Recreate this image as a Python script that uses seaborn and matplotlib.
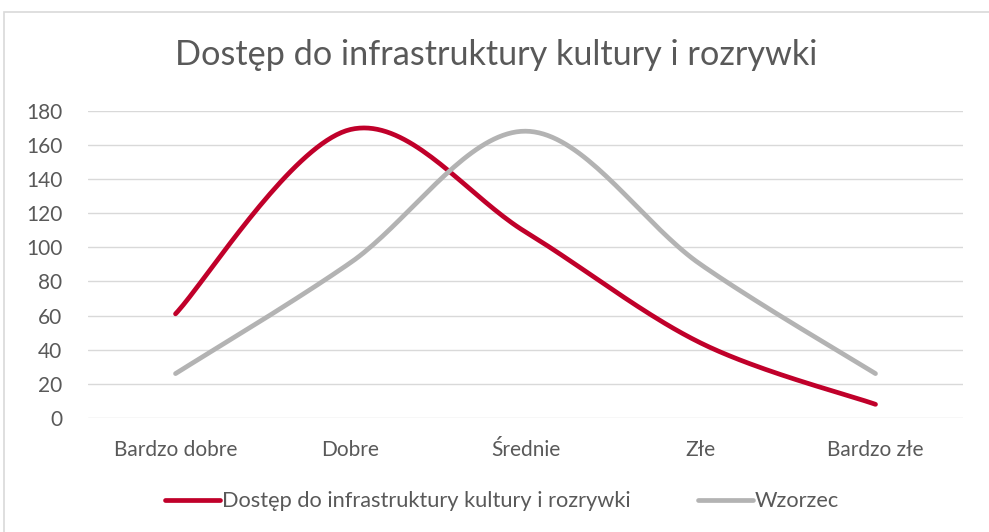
import numpy as np
import pandas as pd
import matplotlib
matplotlib.use("Agg")
import matplotlib.pyplot as plt
from matplotlib.lines import Line2D
import seaborn as sns

categories = ["Bardzo dobre", "Dobre", "Średnie", "Złe", "Bardzo złe"]
dostep = [61, 169, 109, 44, 8]
wzorzec = [26, 91, 168, 90, 26]
series_names = ["Dostęp do infrastruktury kultury i rozrywki", "Wzorzec"]
title = "Dostęp do infrastruktury kultury i rozrywki"
y_ticks = [0, 20, 40, 60, 80, 100, 120, 140, 160, 180]

RED = "#C0002A"
GREY = "#B3B3B3"
TXT = "#595959"


# Excel-like smoothed line: cubic bezier through the points
def smooth(xs, ys, n=40):
    xs = np.asarray(xs, float)
    ys = np.asarray(ys, float)
    px = np.concatenate([[xs[0]], xs, [xs[-1]]])
    py = np.concatenate([[ys[0]], ys, [ys[-1]]])
    out_x, out_y = [], []
    t = np.linspace(0, 1, n)
    for i in range(1, len(px) - 2):
        p0 = np.array([px[i], py[i]])
        p3 = np.array([px[i + 1], py[i + 1]])
        c1 = p0 + (np.array([px[i + 1], py[i + 1]]) - np.array([px[i - 1], py[i - 1]])) / 6
        c2 = p3 - (np.array([px[i + 2], py[i + 2]]) - np.array([px[i], py[i]])) / 6
        b = ((1 - t) ** 3)[:, None] * p0 + (3 * (1 - t) ** 2 * t)[:, None] * c1 \
            + (3 * (1 - t) * t ** 2)[:, None] * c2 + (t ** 3)[:, None] * p3
        out_x.extend(b[:, 0])
        out_y.extend(b[:, 1])
    return out_x, out_y


sns.set_theme(style="white")
plt.rcParams["font.family"] = ["Lato", "DejaVu Sans"]

x = np.arange(len(categories))
frames = []
for name, vals in zip(series_names, [dostep, wzorzec]):
    sx, sy = smooth(x, vals)
    frames.append(pd.DataFrame({"x": sx, "y": sy, "seria": name}))
df = pd.concat(frames, ignore_index=True)

fig = plt.figure(figsize=(9.89, 5.32), dpi=100)
ax = fig.add_axes([0.089, 0.2143, 0.8847, 0.5776])

sns.lineplot(data=df, x="x", y="y", hue="seria", sort=False, estimator=None,
             palette=[RED, GREY], linewidth=3.4, ax=ax, legend=False)
for line in ax.get_lines():
    line.set_solid_capstyle("round")

ax.set_xlim(-0.5, len(categories) - 0.5)
ax.set_ylim(0, 180)
ax.set_yticks(y_ticks)
ax.set_xticks(x)
ax.set_xticklabels(categories)
ax.set_xlabel("")
ax.set_ylabel("")
ax.yaxis.grid(True, color="#D9D9D9", linewidth=1.0)
ax.set_axisbelow(True)
for s in ax.spines.values():
    s.set_visible(False)
ax.tick_params(axis="both", length=0, labelsize=15, colors=TXT)
ax.tick_params(axis="x", pad=16)
ax.tick_params(axis="y", pad=18.5)

fig.text(0.502, 0.897, title, ha="center", va="center", fontsize=24.7, color=TXT)

handles = [Line2D([0], [0], color=RED, lw=3.4, solid_capstyle="round"),
           Line2D([0], [0], color=GREY, lw=3.4, solid_capstyle="round")]
fig.legend(handles, series_names, loc="center", bbox_to_anchor=(0.508, 0.058), ncol=2,
           frameon=False, fontsize=15.7, labelcolor=TXT, handlelength=2.5,
           handletextpad=0.1, columnspacing=3.1)

# outer chart border
fig.patches.append(plt.Rectangle((0.004, -0.05), 1.2, 1.027, transform=fig.transFigure,
                                 fill=False, edgecolor="#D9D9D9", linewidth=1.2))

fig.savefig("out.png", dpi=100, facecolor="white")
